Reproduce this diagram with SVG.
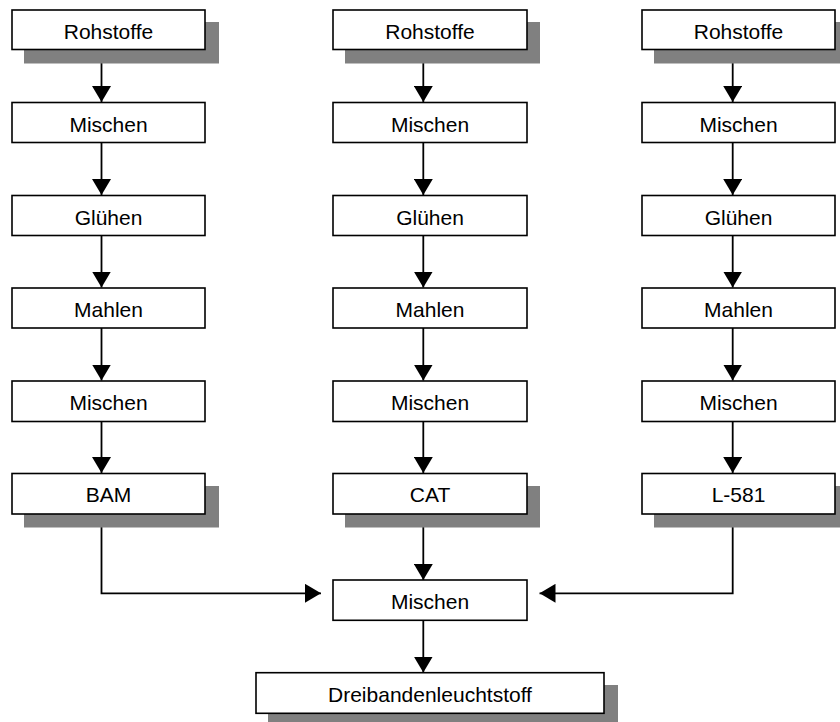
<svg xmlns="http://www.w3.org/2000/svg" width="840" height="722" viewBox="0 0 840 722">
  <style>
    .box { fill: #ffffff; stroke: #000000; stroke-width: 1.6; }
    .shadow { fill: #808080; stroke: none; }
    .label { font-family: "Liberation Sans", Arial, sans-serif; font-size: 21px; fill: #000000; text-anchor: middle; }
    .edge { fill: none; stroke: #000000; stroke-width: 1.8; marker-end: url(#arrow); }
  </style>
  <defs>
    <marker id="arrow" markerUnits="userSpaceOnUse" markerWidth="16" markerHeight="19" refX="16" refY="9.5" orient="auto">
      <path d="M0,0 L16,9.5 L0,19 Z" fill="#000000"/>
    </marker>
  </defs>
  <rect width="840" height="722" fill="#ffffff"/>

  <!-- connectors -->
  <g id="connectors">
    <!-- left column -->
    <path class="edge" d="M101.5,49.5 V102"/>
    <path class="edge" d="M101.5,142 V195"/>
    <path class="edge" d="M101.5,235 V287.5"/>
    <path class="edge" d="M101.5,327.5 V380.5"/>
    <path class="edge" d="M101.5,420.5 V473"/>
    <!-- middle column -->
    <path class="edge" d="M423.3,49.5 V102"/>
    <path class="edge" d="M423.3,142 V195"/>
    <path class="edge" d="M423.3,235 V287.5"/>
    <path class="edge" d="M423.3,327.5 V380.5"/>
    <path class="edge" d="M423.3,420.5 V473"/>
    <!-- right column -->
    <path class="edge" d="M732.7,49.5 V102"/>
    <path class="edge" d="M732.7,142 V195"/>
    <path class="edge" d="M732.7,235 V287.5"/>
    <path class="edge" d="M732.7,327.5 V380.5"/>
    <path class="edge" d="M732.7,420.5 V473"/>
    <!-- merge -->
    <path class="edge" d="M101.5,513.5 V593.3 H321"/>
    <path class="edge" d="M423.3,513.5 V580"/>
    <path class="edge" d="M732.7,513.5 V593.3 H539.5"/>
    <path class="edge" d="M423.3,620 V672.5"/>
  </g>

  <!-- left column -->
  <g id="rohstoffe-1">
    <rect class="shadow" x="24" y="22" width="195" height="41.5"/>
    <rect class="box" x="12" y="10" width="193" height="39.5"/>
    <text class="label" x="108.5" y="38.5">Rohstoffe</text>
  </g>
  <g id="mischen-1a">
    <rect class="box" x="12" y="102.5" width="193" height="40"/>
    <text class="label" x="108.5" y="131.5">Mischen</text>
  </g>
  <g id="gluehen-1">
    <rect class="box" x="12" y="195.5" width="193" height="40"/>
    <text class="label" x="108.5" y="224.5">Glühen</text>
  </g>
  <g id="mahlen-1">
    <rect class="box" x="12" y="288" width="193" height="40"/>
    <text class="label" x="108.5" y="317">Mahlen</text>
  </g>
  <g id="mischen-1b">
    <rect class="box" x="12" y="381" width="193" height="40.5"/>
    <text class="label" x="108.5" y="410">Mischen</text>
  </g>
  <g id="bam">
    <rect class="shadow" x="24" y="486" width="195" height="41.5"/>
    <rect class="box" x="12" y="473.5" width="193" height="40.5"/>
    <text class="label" x="108.5" y="502.3">BAM</text>
  </g>

  <!-- middle column -->
  <g id="rohstoffe-2">
    <rect class="shadow" x="345" y="22" width="195" height="41.5"/>
    <rect class="box" x="333" y="10" width="194" height="39.5"/>
    <text class="label" x="430" y="38.5">Rohstoffe</text>
  </g>
  <g id="mischen-2a">
    <rect class="box" x="333" y="102.5" width="194" height="40"/>
    <text class="label" x="430" y="131.5">Mischen</text>
  </g>
  <g id="gluehen-2">
    <rect class="box" x="333" y="195.5" width="194" height="40"/>
    <text class="label" x="430" y="224.5">Glühen</text>
  </g>
  <g id="mahlen-2">
    <rect class="box" x="333" y="288" width="194" height="40"/>
    <text class="label" x="430" y="317">Mahlen</text>
  </g>
  <g id="mischen-2b">
    <rect class="box" x="333" y="381" width="194" height="40.5"/>
    <text class="label" x="430" y="410">Mischen</text>
  </g>
  <g id="cat">
    <rect class="shadow" x="345" y="486" width="195" height="41.5"/>
    <rect class="box" x="333" y="473.5" width="194" height="40.5"/>
    <text class="label" x="430" y="502.3">CAT</text>
  </g>

  <!-- right column -->
  <g id="rohstoffe-3">
    <rect class="shadow" x="654" y="22" width="195" height="41.5"/>
    <rect class="box" x="642" y="10" width="193" height="39.5"/>
    <text class="label" x="738.5" y="38.5">Rohstoffe</text>
  </g>
  <g id="mischen-3a">
    <rect class="box" x="642" y="102.5" width="193" height="40"/>
    <text class="label" x="738.5" y="131.5">Mischen</text>
  </g>
  <g id="gluehen-3">
    <rect class="box" x="642" y="195.5" width="193" height="40"/>
    <text class="label" x="738.5" y="224.5">Glühen</text>
  </g>
  <g id="mahlen-3">
    <rect class="box" x="642" y="288" width="193" height="40"/>
    <text class="label" x="738.5" y="317">Mahlen</text>
  </g>
  <g id="mischen-3b">
    <rect class="box" x="642" y="381" width="193" height="40.5"/>
    <text class="label" x="738.5" y="410">Mischen</text>
  </g>
  <g id="l581">
    <rect class="shadow" x="654" y="486" width="195" height="41.5"/>
    <rect class="box" x="642" y="473.5" width="193" height="40.5"/>
    <text class="label" x="738.5" y="502.3">L-581</text>
  </g>

  <!-- final stages -->
  <g id="mischen-final">
    <rect class="box" x="333" y="580" width="194" height="40.3"/>
    <text class="label" x="430" y="609">Mischen</text>
  </g>
  <g id="dreibandenleuchtstoff">
    <rect class="shadow" x="268" y="685" width="350" height="42"/>
    <rect class="box" x="256" y="672.7" width="348" height="40.6"/>
    <text class="label" x="430" y="701.8">Dreibandenleuchtstoff</text>
  </g>
</svg>
